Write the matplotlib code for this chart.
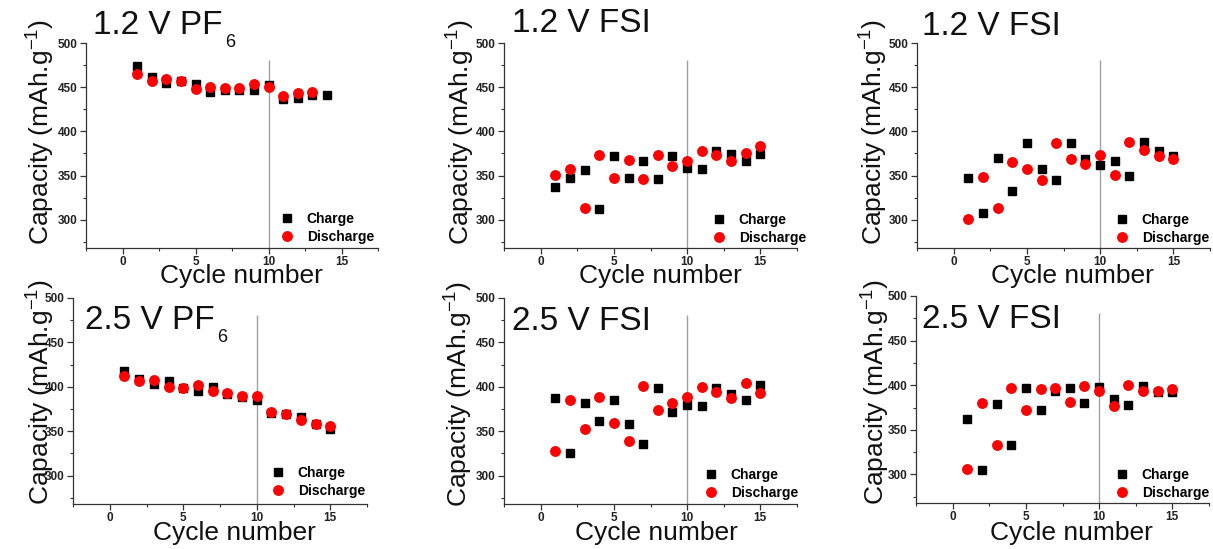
import matplotlib
matplotlib.use("Agg")
import matplotlib.pyplot as plt
import numpy as np

plt.rcParams["font.family"] = ["Liberation Sans", "DejaVu Sans"]
plt.rcParams["mathtext.fontset"] = "custom"
plt.rcParams["mathtext.rm"] = "Liberation Sans"
plt.rcParams["mathtext.it"] = "Liberation Sans:italic"
plt.rcParams["mathtext.bf"] = "Liberation Sans:bold"

# ---------- data ----------
cycles = np.arange(1, 16)

pf6_12_charge = [474, 461.5, 454.5, 457, 454, 444.5, 446.5, 446.5, 447, 452,
                 437, 438, 441, 441.5]
pf6_12_discharge = [465, 457.5, 459, 457, 447.5, 450, 449, 449, 454, 450,
                    440, 443, 444]

fsi_12a_charge = [337, 347.5, 356, 312.5, 372.5, 347, 367, 346, 372, 359,
                  357, 377.5, 374.5, 366.5, 374]
fsi_12a_discharge = [351, 357.5, 313, 373, 347.5, 368, 346, 373.5, 360.5, 366,
                     378, 373, 367, 375.5, 384]

fsi_12b_charge = [347, 307.5, 370, 333, 387, 357.5, 345, 386.5, 368.5, 361.5,
                  367, 350, 388, 378, 372]
fsi_12b_discharge = [301, 348.5, 313, 365.5, 357.5, 345.5, 386.5, 369, 363, 373.5,
                     351, 388, 379, 372, 368.5]

pf6_25_charge = [417.5, 408.5, 403, 407, 398.5, 395, 400, 392, 388, 385.5,
                 370.5, 369, 365.5, 358.5, 352.5]
pf6_25_discharge = [412, 406, 408, 399.5, 398.5, 402.5, 395.5, 392.5, 390, 389.5,
                    372, 369.5, 362.5, 358.5, 355.5]

fsi_25a_charge = [387.5, 325, 382, 361, 385.5, 358, 336, 399, 371.5, 380,
                  378.5, 399, 392, 385, 402]
fsi_25a_discharge = [328, 385, 352, 388, 359, 338.5, 401, 374, 382, 388.5,
                     400, 394.5, 387, 404.5, 392.5]

fsi_25b_charge = [362, 304.5, 379.5, 333.5, 396.5, 372, 394, 397, 380.5, 398.5,
                  385, 377.5, 399.5, 392.5, 392]
fsi_25b_discharge = [306.5, 380.5, 333.5, 396.5, 372, 395.5, 397, 381, 399, 393,
                     377, 400, 393, 393.5, 396]

titles = ["1.2 V PF", "1.2 V FSI", "1.2 V FSI",
          "2.5 V PF", "2.5 V FSI", "2.5 V FSI"]
title_subs = ["6", "", "", "6", "", ""]
charges = [pf6_12_charge, fsi_12a_charge, fsi_12b_charge,
           pf6_25_charge, fsi_25a_charge, fsi_25b_charge]
discharges = [pf6_12_discharge, fsi_12a_discharge, fsi_12b_discharge,
              pf6_25_discharge, fsi_25a_discharge, fsi_25b_discharge]
vline_x = 10
vline_top = 481

# ---------- layout (pixels) ----------
W, H = 1213, 549
axes_px = [(86, 378, 43, 248), (504, 797, 43, 248), (917, 1210, 43, 248),
           (73, 367, 298, 504), (504, 797, 298, 504), (916, 1209, 296, 503)]
title_px = [(93, 34), (512, 32), (922, 35), (85, 329), (512, 330), (922, 328)]
ylabel_px = [(50, 245), (470, 245), (883, 245), (50, 505), (468, 507), (885, 505)]
xlabel_px = [(241, 283), (660, 283), (1072, 283), (234, 540), (656, 540), (1071, 540)]
legend_px = [(374, 244), (806, 245), (1209, 245), (365, 498), (798, 500), (1209, 500)]


def fx(x):
    return x / W


def fy(y):
    return 1 - y / H


fig = plt.figure(figsize=(W / 100, H / 100), dpi=100)

for i in range(6):
    l, r, t, b = axes_px[i]
    ax = fig.add_axes([fx(l), fy(b), (r - l) / W, (b - t) / H])
    ch = charges[i]
    dc = discharges[i]
    ax.plot(cycles[:len(ch)], ch, ls="none", marker="s", ms=6.3,
            color="black", label="Charge")
    ax.plot(cycles[:len(dc)], dc, ls="none", marker="o", ms=6.8,
            color="#ff0000", mec="#ff0000", label="Discharge")
    ax.set_xlim(-2.5, 17.5)
    ax.set_ylim(268, 500)
    ax.vlines(vline_x, 268, vline_top, color="#a0a0a0", lw=1, zorder=0)
    ax.spines["top"].set_visible(False)
    ax.spines["right"].set_visible(False)
    for s in ["left", "bottom"]:
        ax.spines[s].set_color("#333333")
        ax.spines[s].set_linewidth(0.9)
    ax.set_xticks([0, 5, 10, 15])
    ax.set_xticks([-2.5, 2.5, 7.5, 12.5, 17.5], minor=True)
    ax.set_yticks([300, 350, 400, 450, 500])
    ax.set_yticks([275, 325, 375, 425, 475], minor=True)
    ax.tick_params(which="major", length=4, width=0.9, color="#333333",
                   labelsize=8.5, pad=2)
    ax.tick_params(which="minor", length=2.5, width=0.8, color="#333333")
    for lab in ax.get_xticklabels() + ax.get_yticklabels():
        lab.set_fontweight("bold")
        lab.set_color("#222222")
    lx, ly = legend_px[i]
    ax.legend(loc="lower right", bbox_to_anchor=(fx(lx), fy(ly)),
              bbox_transform=fig.transFigure, frameon=False,
              borderpad=0, borderaxespad=0, handlelength=1.2,
              handletextpad=0.85, labelspacing=0.3,
              prop={"weight": "bold", "size": 10})

    tx, ty = title_px[i]
    main = fig.text(fx(tx), fy(ty), titles[i], fontsize=24, ha="left",
                    va="baseline", color="#111111")
    if title_subs[i]:
        # subscript hangs well below the baseline, as in the original
        ax.annotate(title_subs[i], xy=(1, 0), xycoords=main,
                    xytext=(3, -6), textcoords="offset pixels",
                    fontsize=13, ha="left", va="baseline",
                    color="#111111", annotation_clip=False)
    yx, yy = ylabel_px[i]
    fig.text(fx(yx), fy(yy), r"Capacity (mAh.g$^{-1}$)", fontsize=19,
             rotation=90, rotation_mode="anchor", ha="left", va="baseline",
             color="#111111")
    xx, xy = xlabel_px[i]
    fig.text(fx(xx), fy(xy), "Cycle number", fontsize=19, ha="center",
             va="baseline", color="#111111")

plt.savefig("out.png", dpi=100)
